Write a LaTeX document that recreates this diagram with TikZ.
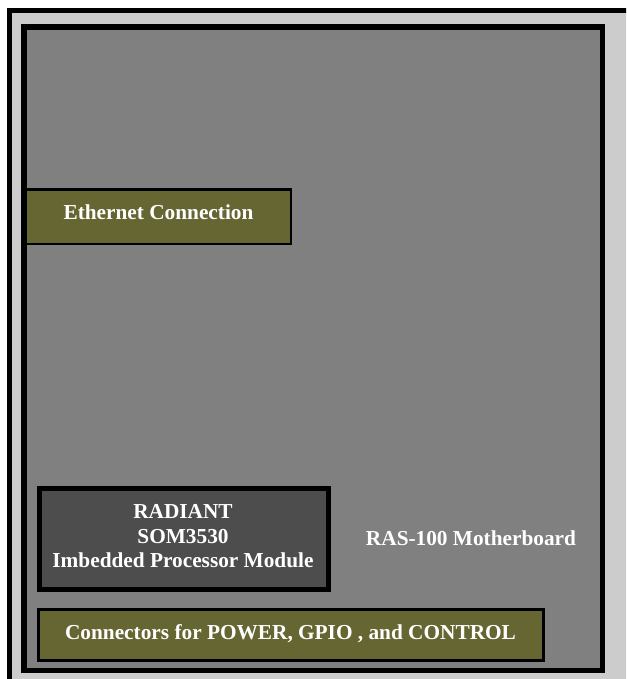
\documentclass[tikz,border=0pt]{standalone}
\usepackage{fontspec}
\setmainfont{Liberation Serif}
\definecolor{framegray}{HTML}{CCCCCC}
\definecolor{boardgray}{HTML}{808080}
\definecolor{somgray}{HTML}{4D4D4D}
\definecolor{olivebox}{HTML}{666633}
\begin{document}
\begin{tikzpicture}[x=1pt,y=-1pt,box/.style={draw=black,rectangle,inner sep=0pt},lbl/.style={text=white,align=center,inner sep=0pt},font=\fontsize{21.3}{24.5}\selectfont\bfseries]
				\useasboundingbox (0,0) rectangle (626,679);
				\clip (0,0) rectangle (626,679);
				\fill[white] (0,0) rectangle (626,679);
				\draw[line width=5pt,fill=framegray] (9.5,10.5) rectangle (640,690);
				
				\node[box,fill=boardgray,line width=5.5pt,minimum width=578.5pt,minimum height=643.5pt] (board) at (313.25,348.75) {};
				\node[box,fill=olivebox,line width=2.5pt,minimum width=265pt,minimum height=54.5pt] (eth) at (158.5,216.5) {};
				\node[box,fill=somgray,line width=5pt,minimum width=289pt,minimum height=101pt] (som) at (184,539) {};
				\node[box,fill=olivebox,line width=3pt,minimum width=505pt,minimum height=51pt] (conn) at (291,635) {};
				
				\node[lbl] (ethtxt) at ([yshift=4.5pt]eth.center) {Ethernet Connection};
				\node[lbl] (somtxt) at ([xshift=-1pt,yshift=2.5pt]som.center) {RADIANT\\SOM3530\\Imbedded Processor Module};
				\node[lbl] (conntxt) at ([xshift=-0.5pt,yshift=1.5pt]conn.center) {Connectors for POWER, GPIO , and CONTROL};
				\node[lbl] (boardtxt) at (471,538) {RAS-100 Motherboard};
			\end{tikzpicture}
\end{document}
